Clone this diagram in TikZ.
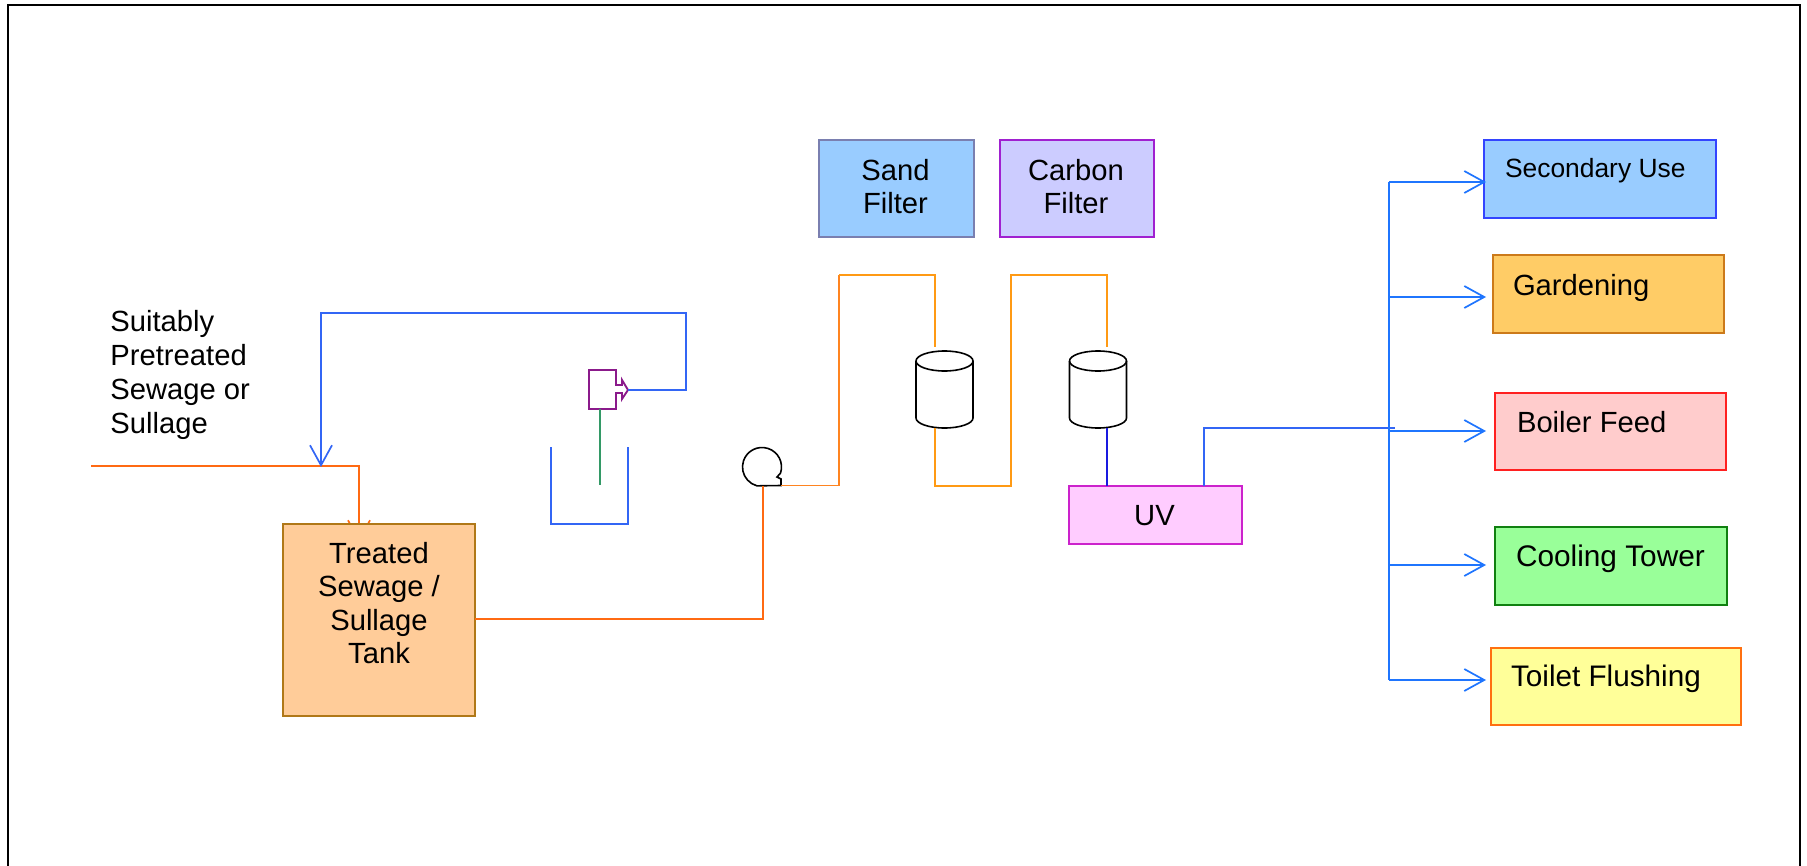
\documentclass[tikz,border=0pt]{standalone}
\usepackage{fontspec}
\setmainfont{Liberation Sans}
\usetikzlibrary{arrows.meta,backgrounds,calc}
\definecolor{inflow}{HTML}{FF6A13}
\definecolor{delivery}{HTML}{FF8420}
\definecolor{amber}{HTML}{FF9A14}
\definecolor{recycle}{HTML}{3366F5}
\definecolor{bus}{HTML}{1F75FE}
\definecolor{blowerc}{HTML}{8B1A8B}
\definecolor{airc}{HTML}{339966}
\definecolor{uvpipe}{HTML}{1A1AE0}
\definecolor{sandfill}{HTML}{99CCFF}
\definecolor{sandline}{HTML}{7A7FB0}
\definecolor{carbonfill}{HTML}{CCCCFF}
\definecolor{carbonline}{HTML}{A020D0}
\definecolor{tankfill}{HTML}{FFCC99}
\definecolor{tankline}{HTML}{B07818}
\definecolor{uvfill}{HTML}{FFCCFF}
\definecolor{uvline}{HTML}{CC22CC}
\definecolor{secfill}{HTML}{99CCFF}
\definecolor{secline}{HTML}{3344FF}
\definecolor{gardfill}{HTML}{FFCC66}
\definecolor{gardline}{HTML}{CC7A1A}
\definecolor{boilfill}{HTML}{FFCCCC}
\definecolor{boilline}{HTML}{FF2020}
\definecolor{coolfill}{HTML}{99FF99}
\definecolor{coolline}{HTML}{108010}
\definecolor{toilfill}{HTML}{FFFF99}
\definecolor{toilline}{HTML}{FF7010}
\newcommand{\linesbox}[4]{\makebox[#1][l]{\parbox[t]{#2}{\centering\baselineskip=#3 #4}}}
\newcommand{\leftbox}[3]{\makebox[#1][l]{\hspace*{#2}#3}}
\tikzset{
  x=0.5pt,y=-0.5pt,
  every node/.style={font=\fontsize{14.6}{16.8}\selectfont,text=black},
  unitbox/.style={draw,rectangle,line width=0.85pt,inner sep=0pt,outer sep=0pt},
  pipe/.style={line width=0.85pt,line join=miter},
  barb/.style={-{Straight Barb[length=10pt,width=11pt,line width=0.85pt]},shorten >=-1pt},
  vessel/.style={draw=none,rectangle,inner sep=0pt,outer sep=0pt,minimum width=28.5pt,minimum height=38.5pt},
  vesselline/.style={draw=black,line width=0.8pt},
}
\newcommand{\vesseldraw}[1]{%
  \draw[vesselline,fill=white] ($(#1.north west)+(0,-5pt)$) -- ($(#1.south west)+(0,5pt)$)
     arc[start angle=180,end angle=360,x radius=14.25pt,y radius=5pt]
     -- ($(#1.north east)+(0,-5pt)$)
     arc[start angle=0,end angle=180,x radius=14.25pt,y radius=5pt];
  \draw[vesselline] ($(#1.north west)+(0,-5pt)$)
     arc[start angle=180,end angle=360,x radius=14.25pt,y radius=5pt];}
\begin{document}
\begin{tikzpicture}
\useasboundingbox (0,0) rectangle (1807,866);
% frame (open at the foot, as in the reference)
\coordinate (frameBL) at (8,866);
\coordinate (frameTL) at (8,5);
\coordinate (frameTR) at (1800,5);
\coordinate (frameBR) at (1800,866);
\draw[line width=1.3pt,line join=miter] (frameBL) -- (frameTL) -- (frameTR) -- (frameBR);

% process boxes
\node[unitbox,draw=sandline,fill=sandfill,text height=20.5pt,text depth=28pt] (sand) at (896.5,188.5)
  {\linesbox{77.5pt}{76.5pt}{16.5pt}{Sand\\Filter}};
\node[unitbox,draw=carbonline,fill=carbonfill,text height=20.5pt,text depth=28pt] (carbon) at (1077,188.5)
  {\linesbox{77pt}{76pt}{16.5pt}{Carbon\\Filter}};
\node[unitbox,draw=tankline,fill=tankfill,text height=19.5pt,text depth=76.5pt] (tank) at (379,620)
  {\linesbox{96pt}{96pt}{16.8pt}{Treated\\Sewage /\\Sullage\\Tank}};
\node[unitbox,draw=uvline,fill=uvfill,text height=19.5pt,text depth=9.5pt] (uv) at (1155.5,515)
  {\linesbox{86.5pt}{85.5pt}{16.8pt}{UV}};

% use boxes
\node[unitbox,draw=secline,fill=secfill,text height=18.5pt,text depth=20.5pt,font=\fontsize{13.2}{16}\selectfont] (secondary) at (1600,179)
  {\leftbox{116pt}{10.5pt}{Secondary Use}};
\node[unitbox,draw=gardline,fill=gardfill,text height=20pt,text depth=19pt] (garden) at (1608.5,294)
  {\leftbox{115.5pt}{10pt}{Gardening}};
\node[unitbox,draw=boilline,fill=boilfill,text height=19.5pt,text depth=19pt] (boiler) at (1610.5,431.5)
  {\leftbox{115.5pt}{11pt}{Boiler Feed}};
\node[unitbox,draw=coolline,fill=coolfill,text height=19.5pt,text depth=19.5pt,font=\fontsize{14.9}{16.8}\selectfont] (cooling) at (1611,566)
  {\leftbox{116pt}{10.5pt}{Cooling Tower}};
\node[unitbox,draw=toilline,fill=toilfill,text height=19pt,text depth=19.5pt,font=\fontsize{14.85}{16.8}\selectfont] (toilet) at (1616,686.5)
  {\leftbox{125pt}{10pt}{Toilet Flushing}};

% inlet label
\node[anchor=base west,inner sep=0pt,align=left] (inletlabel) at (110,331)
  {\parbox[t]{70pt}{\baselineskip=17pt Suitably\\Pretreated\\Sewage or\\Sullage}};

% filter vessels
\node[vessel] (cylA) at (944.5,389.5) {};
\node[vessel] (cylB) at (1098,389.5) {};
\vesseldraw{cylA}
\vesseldraw{cylB}

% pump
\node[draw=none,circle,minimum size=19.5pt,inner sep=0pt,outer sep=0pt] (pump) at (762,467) {};
\coordinate (pumpOut) at (781,485.5);
\coordinate (pumpIn) at (763,485.5);
\draw[line width=0.8pt,line join=miter] ($(pump.center)+(-18:9.75pt)$)
  arc[start angle=-18,end angle=255,radius=9.75pt] -- (pumpOut) -- (781,479) -- (777,477) -- cycle;

% blower
\coordinate (blowerTip) at (628,390);
\coordinate (blowerFoot) at (600,409);
\draw[draw=blowerc,line width=0.95pt,line join=miter]
  (589,370) -- (616,370) -- (616,385) -- (622,385) -- (622,380) -- (blowerTip)
  -- (622,399) -- (622,393) -- (616,393) -- (616,409) -- (589,409) -- cycle;

% sump and diffuser
\coordinate (sumpL) at (551,447);
\coordinate (sumpBL) at (551,524);
\coordinate (sumpBR) at (628,524);
\coordinate (sumpR) at (628,447);
\coordinate (diffuser) at (600,485);
\draw[pipe,recycle] (sumpL) -- (sumpBL) -- (sumpBR) -- (sumpR);
\draw[pipe,draw=airc] (blowerFoot) -- (diffuser);

% inlet and recycle
\coordinate (inletStart) at (91,466);
\coordinate (inletBend) at (359,466);
\coordinate (tankEntry) at (359,540);
\begin{scope}[on background layer]
\draw[pipe,inflow,barb] (inletStart) -- (inletBend) -- (tankEntry);
\end{scope}
\coordinate (airA) at (686,390);
\coordinate (airB) at (686,313);
\coordinate (airC) at (321,313);
\coordinate (airEnd) at (321,465);
\draw[pipe,recycle,barb] (blowerTip) -- (airA) -- (airB) -- (airC) -- (airEnd);

% pump suction and delivery
\coordinate (suctionY) at (0,619);
\draw[pipe,inflow] (tank.east |- suctionY) -- (pumpIn |- suctionY) -- (pumpIn);
\coordinate (riseA) at (839,485.5);
\coordinate (riseB) at (839,275);
\coordinate (riseC) at (935,275);
\draw[pipe,delivery] (pumpOut) -- (riseA) -- (riseB);
\draw[pipe,amber] (riseB) -- (riseC) -- ($(cylA.north -| riseC)+(0,2pt)$);
\coordinate (dropA) at (935,486);
\coordinate (dropB) at (1011,486);
\coordinate (dropC) at (1011,275);
\coordinate (dropD) at (1107,275);
\draw[pipe,amber] (cylA.south -| dropA) -- (dropA) -- (dropB) -- (dropC) -- (dropD) -- ($(cylB.north -| dropD)+(0,2pt)$);
\draw[pipe,draw=uvpipe] (cylB.south -| dropD) -- (uv.north -| dropD);

% distribution
\coordinate (uvOut) at (1204,428);
\coordinate (busStub) at (1395,428);
\coordinate (busTop) at (1389,182);
\coordinate (busFoot) at (1389,680);
\draw[pipe,recycle] (uv.north -| uvOut) -- (uvOut) -- (busStub);
\draw[pipe,bus,line join=miter] (busTop) -- (busFoot);
\coordinate (bGarden) at (1389,297);
\coordinate (bBoiler) at (1389,431);
\coordinate (bCool) at (1389,565);
\draw[pipe,bus,barb] (busTop) -- (secondary.west |- busTop);
\draw[pipe,bus,barb] (bGarden) -- (secondary.west |- bGarden);
\draw[pipe,bus,barb] (bBoiler) -- (secondary.west |- bBoiler);
\draw[pipe,bus,barb] (bCool) -- (secondary.west |- bCool);
\draw[pipe,bus,barb] (busFoot) -- (secondary.west |- busFoot);
\end{tikzpicture}
\end{document}
